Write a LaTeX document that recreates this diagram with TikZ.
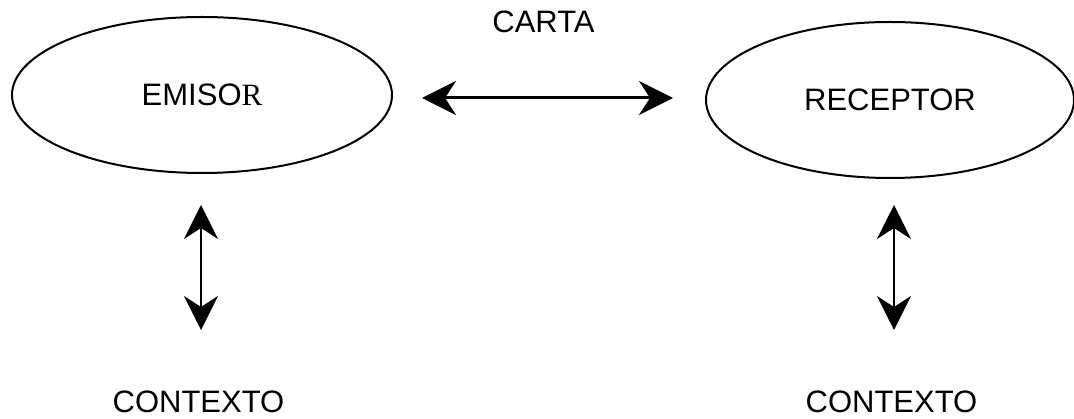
\documentclass[tikz,border=0pt]{standalone}
\usepackage{fontspec}
\setmainfont{Liberation Sans}
\newfontfamily\timesfont{Liberation Serif}
\usetikzlibrary{shapes.geometric,arrows.meta}
\begin{document}
\begin{tikzpicture}[x=1pt,y=-1pt,
  txt/.style={font=\fontsize{31}{36}\selectfont, inner sep=0pt},
  oval/.style={ellipse, draw, line width=2pt, inner sep=0pt, font=\fontsize{31}{36}\selectfont},
  dbl/.style={{Stealth[length=34pt,width=34pt,inset=11pt]}-{Stealth[length=34pt,width=34pt,inset=11pt]}}
]
\useasboundingbox (0,0) rectangle (1074,419);
\node[oval, minimum width=380pt, minimum height=156pt] (emisor) at (202,95) {EMISO{\timesfont R}};
\node[oval, minimum width=368pt, minimum height=156pt] (receptor) at (890,100) {RECEPTOR};
\node[txt, anchor=base] (carta) at (543.5,33) {CARTA};
\node[txt, anchor=base] (ctx1) at (198.5,413) {CONTEXTO};
\node[txt, anchor=base] (ctx2) at (891.5,413) {CONTEXTO};
\coordinate (h1) at (422,98);
\coordinate (h2) at (673,98);
\coordinate (v1a) at (201,205);
\coordinate (v1b) at (201,330);
\coordinate (v2a) at (894,205);
\coordinate (v2b) at (894,330);
\draw[dbl, line width=3pt] (h1) -- (h2);
\draw[dbl, line width=2pt] (v1a) -- (v1b);
\draw[dbl, line width=2pt] (v2a) -- (v2b);
\end{tikzpicture}
\end{document}
